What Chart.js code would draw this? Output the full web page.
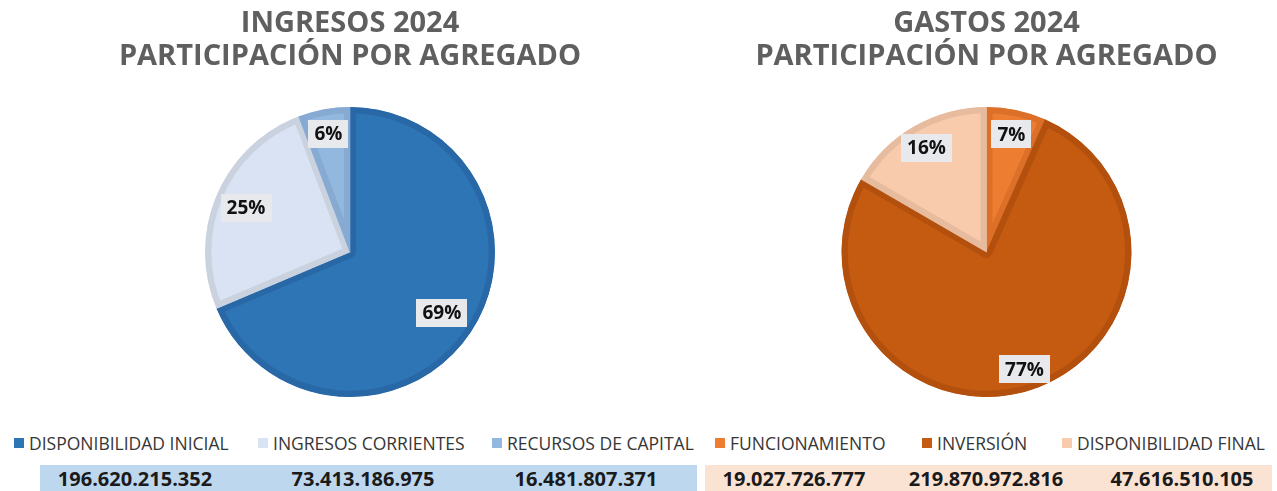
<!DOCTYPE html>
<html lang="es">
<head>
<meta charset="utf-8">
<title>Ingresos y Gastos 2024</title>
<script src="https://cdn.jsdelivr.net/npm/chart.js@4.4.1/dist/chart.umd.min.js"></script>
<style>
  html, body { margin: 0; padding: 0; background: #fff; }
  body { width: 1277px; height: 491px; position: relative; overflow: hidden; font-family: "Open Sans", sans-serif; }
  canvas { position: absolute; top: 0; }
  #c-ing { left: 0; }
  #c-gas { left: 698px; }
  .legend-item { position: absolute; top: 433px; height: 20px; display: flex; align-items: center; font-size: 17.5px; color: #363636; white-space: nowrap; }
  .legend-item i { display: inline-block; width: 10px; height: 10px; margin-right: 5px; }
  .band { position: absolute; top: 465px; height: 26px; display: grid; align-items: center; font-weight: 700; font-size: 20px; color: #1a1a1a; }
  .band span { text-align: center; }
  #band-ing { left: 40px; width: 657px; background: #bdd7ee; grid-template-columns: 190px 266px 180px; }
  #band-gas { left: 705px; width: 567px; background: #fbe3d4; grid-template-columns: 178px 206px 186px; }
</style>
</head>
<body>
<canvas id="c-ing" width="700" height="430"></canvas>
<canvas id="c-gas" width="577" height="430"></canvas>
<div id="legend-ing"></div>
<div id="legend-gas"></div>
<div class="band" id="band-ing"></div>
<div class="band" id="band-gas"></div>
<script>
const ingresosLabels = ["DISPONIBILIDAD INICIAL", "INGRESOS CORRIENTES", "RECURSOS DE CAPITAL"];
const ingresosValues = [196620215352, 73413186975, 16481807371];
const ingresosPct = ["69%", "25%", "6%"];

const gastosLabels = ["FUNCIONAMIENTO", "INVERSIÓN", "DISPONIBILIDAD FINAL"];
const gastosValues = [19027726777, 219870972816, 47616510105];
const gastosPct = ["7%", "77%", "16%"];

const ingresosColors = ["#2e75b6", "#dae3f3", "#93b8e0"];
const ingresosBorders = ["#2968a6", "#c9d2de", "#86aad2"];
const gastosColors = ["#ed7d31", "#c55a11", "#f8cbad"];
const gastosBorders = ["#dc7029", "#b4500e", "#e6bb9e"];

function fmt(n) {
  return String(n).replace(/\B(?=(\d{3})+(?!\d))/g, ".");
}

// etiquetas de porcentaje con caja gris
const pctBoxes = {
  id: "pctBoxes",
  afterDatasetsDraw(chart, args, opts) {
    const ctx = chart.ctx;
    const arcs = chart.getDatasetMeta(0).data;
    ctx.save();
    ctx.font = "bold 19px 'Open Sans'";
    ctx.textAlign = "center";
    ctx.textBaseline = "middle";
    arcs.forEach((arc, i) => {
      const p = arc.getProps(["x", "y", "startAngle", "endAngle", "outerRadius"], true);
      const mid = (p.startAngle + p.endAngle) / 2;
      const r = p.outerRadius * opts.radii[i];
      const x = p.x + Math.cos(mid) * r;
      const y = p.y + Math.sin(mid) * r;
      const txt = opts.texts[i];
      const w = ctx.measureText(txt).width + 12;
      const h = 28;
      ctx.fillStyle = "#e7e9ec";
      ctx.fillRect(Math.round(x - w / 2), Math.round(y - h / 2), Math.round(w), h);
      ctx.fillStyle = "#111";
      ctx.fillText(txt, x, y + 1);
    });
    ctx.restore();
  }
};

function makePie(id, title, labels, values, colors, borders, texts, radii) {
  return new Chart(document.getElementById(id), {
    type: "pie",
    data: {
      labels: labels,
      datasets: [{
        data: values,
        backgroundColor: colors,
        borderColor: borders,
        borderWidth: 6,
        borderAlign: "inner"
      }]
    },
    options: {
      responsive: false,
      animation: false,
      radius: 145,
      layout: { padding: 0 },
      plugins: {
        legend: { display: false },
        tooltip: { enabled: false },
        title: {
          display: true,
          text: title,
          color: "#5f5f5f",
          font: { family: "'Open Sans'", size: 29, weight: "bold", lineHeight: 1.14 },
          padding: { top: 7.5, bottom: 0.4 }
        },
        pctBoxes: { texts: texts, radii: radii }
      }
    },
    plugins: [pctBoxes]
  });
}

makePie("c-ing", ["INGRESOS 2024", "PARTICIPACIÓN POR AGREGADO"],
  ingresosLabels, ingresosValues, ingresosColors, ingresosBorders, ingresosPct, [0.76, 0.78, 0.83]);
makePie("c-gas", ["GASTOS 2024", "PARTICIPACIÓN POR AGREGADO"],
  gastosLabels, gastosValues, gastosColors, gastosBorders, gastosPct, [0.83, 0.85, 0.83]);

function buildLegend(elId, labels, colors, lefts) {
  const el = document.getElementById(elId);
  labels.forEach((l, i) => {
    const d = document.createElement("div");
    d.className = "legend-item";
    d.style.left = lefts[i] + "px";
    d.innerHTML = `<i style="background:${colors[i]}"></i>${l}`;
    el.appendChild(d);
  });
}
buildLegend("legend-ing", ingresosLabels, ingresosColors, [14, 258, 492]);
buildLegend("legend-gas", gastosLabels, gastosColors, [715, 922, 1062]);

function buildBand(elId, values) {
  const el = document.getElementById(elId);
  values.forEach(v => {
    const s = document.createElement("span");
    s.textContent = fmt(v);
    el.appendChild(s);
  });
}
buildBand("band-ing", ingresosValues);
buildBand("band-gas", gastosValues);
</script>
</body>
</html>
